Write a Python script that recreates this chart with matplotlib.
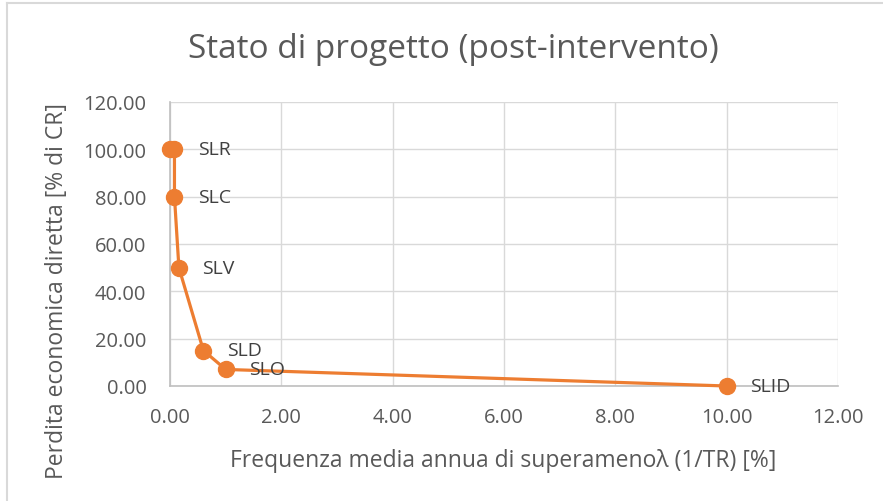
import matplotlib
matplotlib.use("Agg")
import matplotlib.pyplot as plt
from matplotlib.lines import Line2D

title = "Stato di progetto (post-intervento)"
xlabel = "Frequenza media annua di superamenoλ (1/TR) [%]"
ylabel = "Perdita economica diretta [% di CR]"

lam = [0.0, 0.08, 0.08, 0.16, 0.6, 1.0, 10.0]
loss = [100.0, 100.0, 80.0, 50.0, 15.0, 7.0, 0.0]
labels = ["", "SLR", "SLC", "SLV", "SLD", "SLO", "SLID"]

xticks = [0, 2, 4, 6, 8, 10, 12]
yticks = [0, 20, 40, 60, 80, 100, 120]

plt.rcParams['font.family'] = ['Open Sans', 'DejaVu Sans']
W, H = 883, 502
fig = plt.figure(figsize=(W/100, H/100), dpi=100)
ax = fig.add_axes([170/W, 1-387/H, (838-170)/W, (387-103)/H])

orange = "#ED7D31"
txt = "#595959"
ax.plot(lam, loss, color=orange, lw=2.3, marker='o', ms=11.5, zorder=3, clip_on=False)
for x, y, l in zip(lam, loss, labels):
    if l:
        ax.annotate(l, (x, y), xytext=(17, 0), textcoords='offset points',
                    fontsize=14, color="#404040", va='center', ha='left', zorder=4)

ax.set_xlim(0, 12)
ax.set_ylim(0, 120)
ax.set_xticks(xticks)
ax.set_yticks(yticks)
ax.set_xticklabels([f"{v:.2f}" for v in xticks])
ax.set_yticklabels([f"{v:.2f}" for v in yticks])
ax.tick_params(axis='both', length=0, labelsize=14.5, labelcolor=txt)
ax.tick_params(axis='x', pad=15)
ax.tick_params(axis='y', pad=17)
ax.grid(True, color="#D9D9D9", lw=1)
ax.set_axisbelow(True)
for s in ['top', 'right']:
    ax.spines[s].set_visible(False)
for s in ['left', 'bottom']:
    ax.spines[s].set_color("#BFBFBF")
    ax.spines[s].set_linewidth(1.2)

fig.text(503/W, 1-461/H, xlabel, fontsize=16.5, color=txt, ha='center', va='center')
fig.text(57/W, 1-291/H, ylabel, fontsize=16.5, color=txt, ha='center', va='center', rotation=90)
fig.text(453/W, 1-50/H, title, fontsize=24, color=txt, ha='center', va='center')

fig.add_artist(Line2D([7/W, 1], [1-4/H, 1-4/H], transform=fig.transFigure, color="#D9D9D9", lw=1.5))
fig.add_artist(Line2D([7/W, 7/W], [0, 1-4/H], transform=fig.transFigure, color="#D9D9D9", lw=1.5))
fig.savefig("out.png", dpi=100)
